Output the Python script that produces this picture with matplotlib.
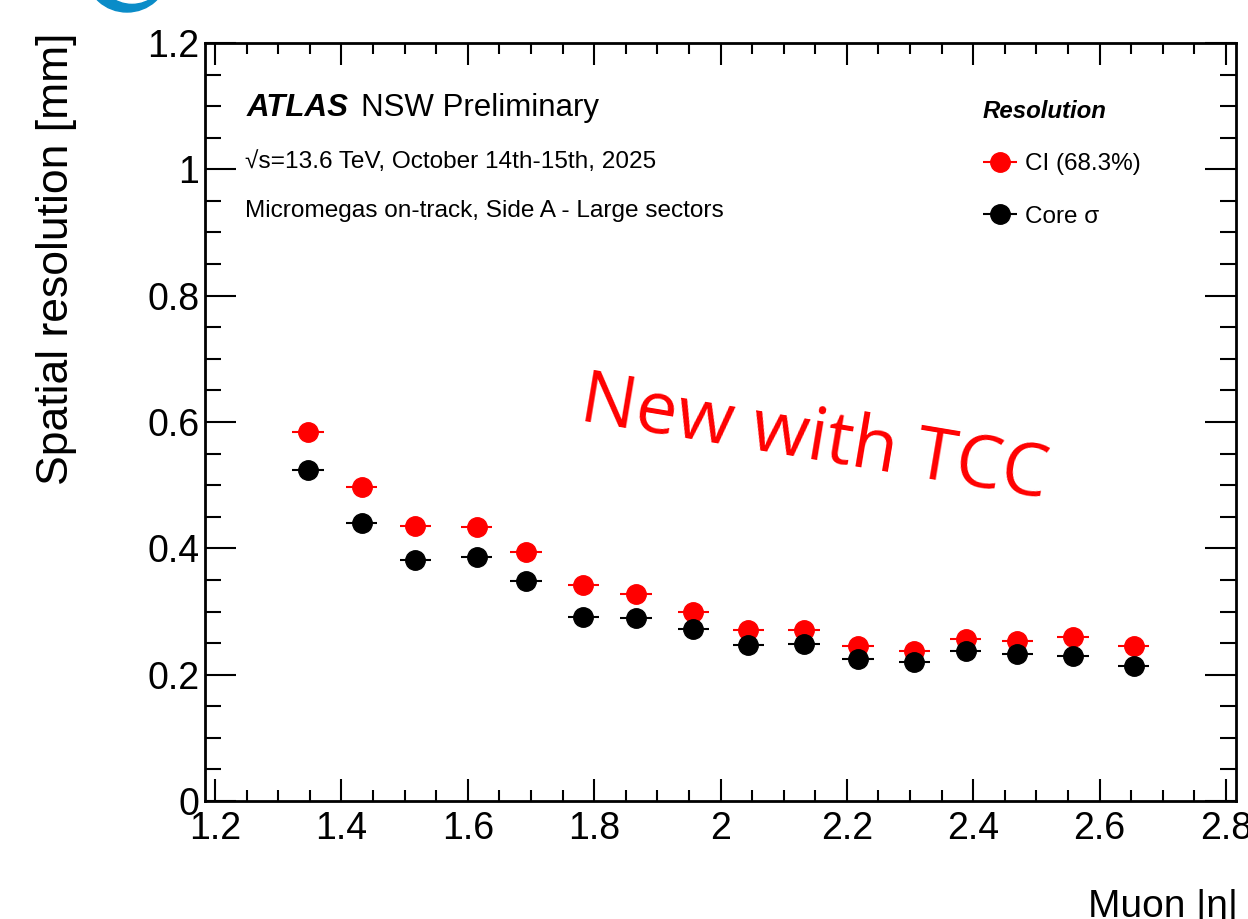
import matplotlib
matplotlib.use('Agg')
import matplotlib.pyplot as plt
from matplotlib.patches import Ellipse
from matplotlib.ticker import MultipleLocator, FixedLocator
from matplotlib.legend_handler import HandlerErrorbar

# data
eta = [1.347, 1.432, 1.517, 1.614, 1.692, 1.783, 1.866, 1.957, 2.044, 2.132,
       2.218, 2.307, 2.388, 2.470, 2.558, 2.654]
eta_err = [0.025] * 16
ci_res = [0.584, 0.497, 0.436, 0.433, 0.394, 0.342, 0.328, 0.299, 0.270, 0.270,
          0.245, 0.237, 0.257, 0.253, 0.259, 0.245]
core_res = [0.524, 0.440, 0.381, 0.387, 0.349, 0.292, 0.289, 0.273, 0.247, 0.248,
            0.225, 0.220, 0.238, 0.232, 0.230, 0.213]
x_ticks = [1.2, 1.4, 1.6, 1.8, 2.0, 2.2, 2.4, 2.6, 2.8]
x_ticklabels = ['1.2', '1.4', '1.6', '1.8', '2', '2.2', '2.4', '2.6', '2.8']
y_ticks = [0, 0.2, 0.4, 0.6, 0.8, 1.0, 1.2]
y_ticklabels = ['0', '0.2', '0.4', '0.6', '0.8', '1', '1.2']

W, H = 1248, 919
def px(x, y):
    return (x / W, 1 - y / H)

plt.rcParams['font.family'] = ['Liberation Sans', 'DejaVu Sans']

fig = plt.figure(figsize=(W / 100, H / 100), dpi=100)
ax = fig.add_axes([205 / W, 1 - 801 / H, (1236 - 205) / W, (801 - 43) / H])

h_ci = ax.errorbar(eta, ci_res, xerr=eta_err, fmt='o', color='red', ms=14,
                   elinewidth=1.5, capsize=0, zorder=3)
h_core = ax.errorbar(eta, core_res, xerr=eta_err, fmt='o', color='black', ms=14,
                     elinewidth=1.5, capsize=0, zorder=4)

ax.set_xlim(1.184, 2.816)
ax.set_ylim(0, 1.2)
ax.xaxis.set_major_locator(FixedLocator(x_ticks))
ax.set_xticklabels(x_ticklabels)
ax.xaxis.set_minor_locator(MultipleLocator(0.05))
ax.yaxis.set_major_locator(FixedLocator(y_ticks))
ax.set_yticklabels(y_ticklabels)
ax.yaxis.set_minor_locator(MultipleLocator(0.05))

ax.tick_params(which='both', direction='in', top=True, right=True, width=1.5,
               labelsize=27, colors='black')
ax.tick_params(axis='x', which='major', length=16, pad=7)
ax.tick_params(axis='x', which='minor', length=8)
ax.tick_params(axis='y', which='major', length=22, pad=4)
ax.tick_params(axis='y', which='minor', length=11.5)
for s in ax.spines.values():
    s.set_linewidth(2)

# axis titles
fig.text(*px(57, 33), 'Spatial resolution [mm]', rotation=90, ha='center',
         va='top', fontsize=32)
fig.text(*px(1238, 889), 'Muon |η|', ha='right', va='top', fontsize=28)

# labels inside the frame
fig.text(*px(247, 116), 'ATLAS', fontsize=22.5, weight='bold', style='italic')
fig.text(*px(361, 116), 'NSW Preliminary', fontsize=22.5)
fig.text(*px(245, 168), '√s=13.6 TeV, October 14th-15th, 2025', fontsize=17.6)
fig.text(*px(245, 217), 'Micromegas on-track, Side A - Large sectors', fontsize=17.6)

fig.text(*px(578, 420), 'New with TCC', color='red', fontsize=53,
         family=['Open Sans', 'DejaVu Sans'], rotation=-9.5,
         rotation_mode='anchor', ha='left', va='baseline')

ax.legend(handles=[h_ci, h_core], labels=['CI (68.3%)', 'Core σ'],
          title='Resolution', loc='upper left', bbox_to_anchor=px(983, 100),
          bbox_transform=fig.transFigure, frameon=False, fontsize=17.5,
          title_fontproperties={'weight': 'bold', 'style': 'italic', 'size': 17.3},
          alignment='left', handlelength=1.4, handletextpad=0.33,
          labelspacing=1.25, borderpad=0, borderaxespad=0,
          handler_map={type(h_ci): HandlerErrorbar(xerr_size=0.7)})

# piece of a logo cut off at the top edge
fig.add_artist(Ellipse(px(127, -25), 80 / W, 74 / H, color='#0a8cc8',
                       transform=fig.transFigure))
fig.add_artist(Ellipse(px(132, -25), 62 / W, 56 / H, color='white',
                       transform=fig.transFigure))

fig.savefig('out.png', dpi=100)
